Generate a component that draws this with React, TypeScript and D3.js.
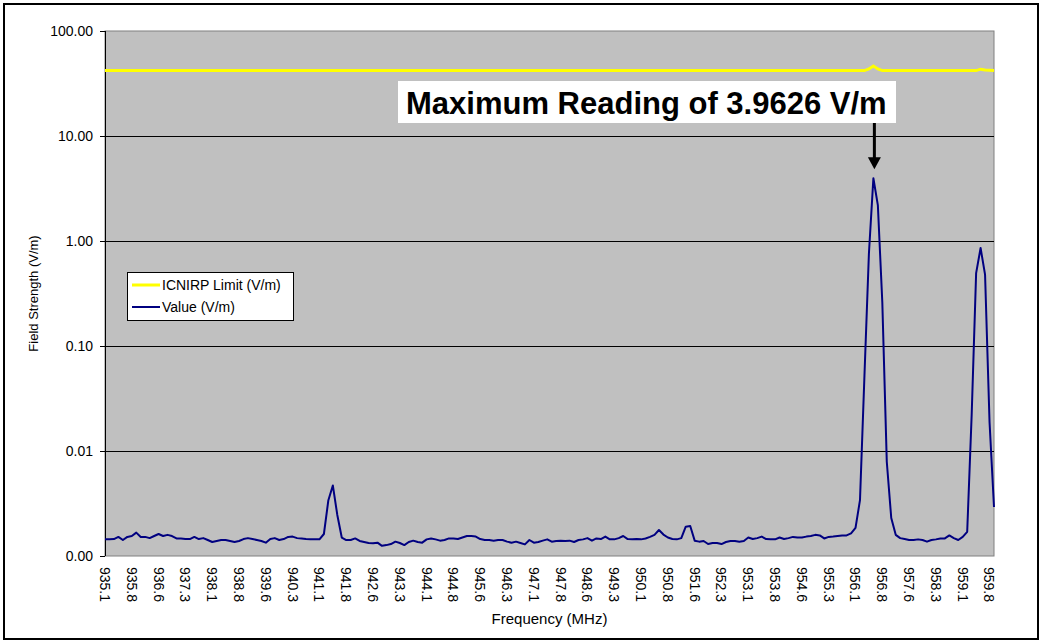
import React from "react";
import * as d3 from "d3";

// Field strength readings (V/m), one per frequency step (935.1 MHz .. ~960 MHz)
const values: number[] = [
  0.00144, 0.00144, 0.00145, 0.00152, 0.00142, 0.00152, 0.00155, 0.00167, 0.00152, 0.00152,
  0.00148, 0.00155, 0.00162, 0.00155, 0.00159, 0.00155, 0.00147, 0.00147, 0.00145, 0.00145,
  0.00152, 0.00145, 0.00148, 0.00142, 0.00136, 0.00139, 0.00142, 0.00142, 0.00139, 0.00136,
  0.00139, 0.00145, 0.00148, 0.00145, 0.00142, 0.00139, 0.00134, 0.00145, 0.00148, 0.00142,
  0.00145, 0.00152, 0.00153, 0.00148, 0.00147, 0.00145, 0.00144, 0.00144, 0.00144, 0.00162,
  0.0034, 0.0047, 0.00246, 0.0015, 0.00142, 0.00142, 0.00147, 0.00139, 0.00136, 0.00133,
  0.00132, 0.00134, 0.00125, 0.00127, 0.0013, 0.00137, 0.00133, 0.00127, 0.00136, 0.0014,
  0.00136, 0.00134, 0.00144, 0.00147, 0.00144, 0.0014, 0.00142, 0.00147, 0.00147, 0.00145,
  0.0015, 0.00155, 0.00155, 0.00153, 0.00145, 0.00142, 0.00142, 0.0014, 0.00142, 0.00142,
  0.00137, 0.00134, 0.00137, 0.00133, 0.00129, 0.00142, 0.00134, 0.00136, 0.0014, 0.00144,
  0.00137, 0.00139, 0.0014, 0.00139, 0.0014, 0.00136, 0.00142, 0.00144, 0.00148, 0.0014,
  0.00147, 0.00145, 0.00153, 0.00144, 0.00144, 0.00148, 0.00155, 0.00145, 0.00144, 0.00145,
  0.00144, 0.00147, 0.00152, 0.00159, 0.00177, 0.0016, 0.0015, 0.00145, 0.00144, 0.00148,
  0.0019, 0.00193, 0.0014, 0.00137, 0.00139, 0.0013, 0.00133, 0.00133, 0.0013, 0.00136,
  0.00139, 0.00139, 0.00137, 0.00139, 0.0015, 0.00145, 0.00148, 0.00153, 0.00145, 0.00144,
  0.00144, 0.0015, 0.00145, 0.00148, 0.00152, 0.0015, 0.0015, 0.00153, 0.00155, 0.00159,
  0.00157, 0.00147, 0.00152, 0.00153, 0.00155, 0.00157, 0.00157, 0.00164, 0.00185, 0.0034,
  0.052, 0.76, 3.9626, 2.2, 0.26, 0.0079, 0.0023, 0.00159, 0.00148, 0.00145,
  0.00142, 0.00142, 0.00144, 0.00142, 0.00137, 0.00142, 0.00144, 0.00147, 0.00147, 0.00157,
  0.00148, 0.00142, 0.00152, 0.0017, 0.022, 0.495, 0.857, 0.478, 0.0189, 0.00293,
];

// ICNIRP limit (V/m) at selected steps; straight between them
const limitIdx: number[] = [0, 170, 171, 172, 173, 174, 195, 196, 197, 199];
const limitVal: number[] = [42.0, 42.0, 43.5, 46.4, 43.5, 42.0, 42.0, 43.3, 42.5, 42.0];

// Category tick labels, shown every 6th step
const xTickLabels: string[] = [
  "935.1", "935.8", "936.6", "937.3", "938.1", "938.8", "939.6", "940.3", "941.1", "941.8",
  "942.6", "943.3", "944.1", "944.8", "945.6", "946.3", "947.1", "947.8", "948.6", "949.3",
  "950.1", "950.8", "951.6", "952.3", "953.1", "953.8", "954.6", "955.3", "956.1", "956.8",
  "957.6", "958.3", "959.1", "959.8",
];
const labelEvery = 6;

const yTickValues: number[] = [100, 10, 1, 0.1, 0.01, 0.001];
const yTickLabels: string[] = ["100.00", "10.00", "1.00", "0.10", "0.01", "0.00"];

const seriesNames: string[] = ["ICNIRP Limit (V/m)", "Value (V/m)"];
const annotationText = "Maximum Reading of 3.9626 V/m";

const W = 1043;
const H = 644;
const plot = { left: 105, right: 994, top: 31, bottom: 556 };
const FONT = "'Liberation Sans', Arial, Helvetica, sans-serif";
const BLUE = "#000080";
const YELLOW = "#FFFF00";

export default function App() {
  const x = d3.scaleLinear().domain([0, values.length - 1]).range([plot.left, plot.right]);
  const y = d3.scaleLog().domain([0.001, 100]).range([plot.bottom, plot.top]);

  const valueLine = d3
    .line<number>()
    .x((_, i) => x(i))
    .y((d) => y(d))(values) as string;

  const limitLine = d3
    .line<number>()
    .x((_, i) => x(limitIdx[i]))
    .y((d) => y(d))(limitVal) as string;

  const maxIdx = d3.maxIndex(values);
  const ax = x(maxIdx) + 1;
  const peakY = y(values[maxIdx]);

  return (
    <svg
      width={W}
      height={H}
      style={{ position: "absolute", left: 0, top: 0, background: "#fff" }}
      fontFamily={FONT}
    >
      <rect x={0} y={0} width={W} height={H} fill="#fff" />
      {/* outer frame */}
      <rect x={4} y={4} width={1034} height={635} fill="none" stroke="#000" strokeWidth={2} />

      {/* plot area */}
      <rect
        x={plot.left}
        y={plot.top}
        width={plot.right - plot.left}
        height={plot.bottom - plot.top}
        fill="#C0C0C0"
        stroke="#808080"
        strokeWidth={1}
      />

      {/* gridlines */}
      {yTickValues
        .filter((v) => v < 100 && v > 0.001)
        .map((v) => (
          <line
            key={"g" + v}
            x1={plot.left}
            x2={plot.right}
            y1={Math.round(y(v)) + 0.5}
            y2={Math.round(y(v)) + 0.5}
            stroke="#000"
            strokeWidth={1}
          />
        ))}

      {/* y axis */}
      <line x1={plot.left + 0.5} x2={plot.left + 0.5} y1={plot.top} y2={plot.bottom} stroke="#000" />
      {yTickValues.map((v, i) => (
        <g key={"yt" + i}>
          <line
            x1={plot.left - 5}
            x2={plot.left}
            y1={Math.round(y(v)) + 0.5}
            y2={Math.round(y(v)) + 0.5}
            stroke="#000"
          />
          <text x={plot.left - 12} y={y(v)} dy="0.36em" textAnchor="end" fontSize={14} fill="#000">
            {yTickLabels[i]}
          </text>
        </g>
      ))}

      {/* x tick labels */}
      {xTickLabels.map((t, i) => {
        const xi = x(i * labelEvery);
        return (
          <text
            key={"xt" + i}
            transform={`translate(${xi},${plot.bottom + 11}) rotate(90)`}
            dy="0.36em"
            textAnchor="start"
            fontSize={14}
            fill="#000"
          >
            {t}
          </text>
        );
      })}

      {/* axis titles */}
      <text x={(plot.left + plot.right) / 2} y={624} textAnchor="middle" fontSize={15} fill="#000">
        Frequency (MHz)
      </text>
      <text
        transform={`translate(38,${(plot.top + plot.bottom) / 2}) rotate(-90)`}
        textAnchor="middle"
        fontSize={13}
        fill="#000"
      >
        Field Strength (V/m)
      </text>

      {/* series */}
      <path d={limitLine} fill="none" stroke={YELLOW} strokeWidth={3} />
      <path d={valueLine} fill="none" stroke={BLUE} strokeWidth={2} strokeLinejoin="round" />

      {/* legend */}
      <rect x={127.5} y={272.5} width={166} height={48} fill="#fff" stroke="#000" strokeWidth={1} />
      <line x1={132} x2={160} y1={285} y2={285} stroke={YELLOW} strokeWidth={3} />
      <text x={162} y={285} dy="0.36em" fontSize={14} fill="#000">
        {seriesNames[0]}
      </text>
      <line x1={132} x2={160} y1={307} y2={307} stroke={BLUE} strokeWidth={2} />
      <text x={162} y={307} dy="0.36em" fontSize={14} fill="#000">
        {seriesNames[1]}
      </text>

      {/* annotation */}
      <rect x={398} y={81} width={498} height={42} fill="#fff" />
      <text x={406} y={113.5} fontSize={31} fontWeight="bold" fill="#000">
        {annotationText}
      </text>
      <line x1={ax} x2={ax} y1={123} y2={peakY - 20} stroke="#000" strokeWidth={3} />
      <path
        d={`M${ax - 6.5},${peakY - 21} L${ax + 6.5},${peakY - 21} L${ax},${peakY - 9} Z`}
        fill="#000"
      />
    </svg>
  );
}
